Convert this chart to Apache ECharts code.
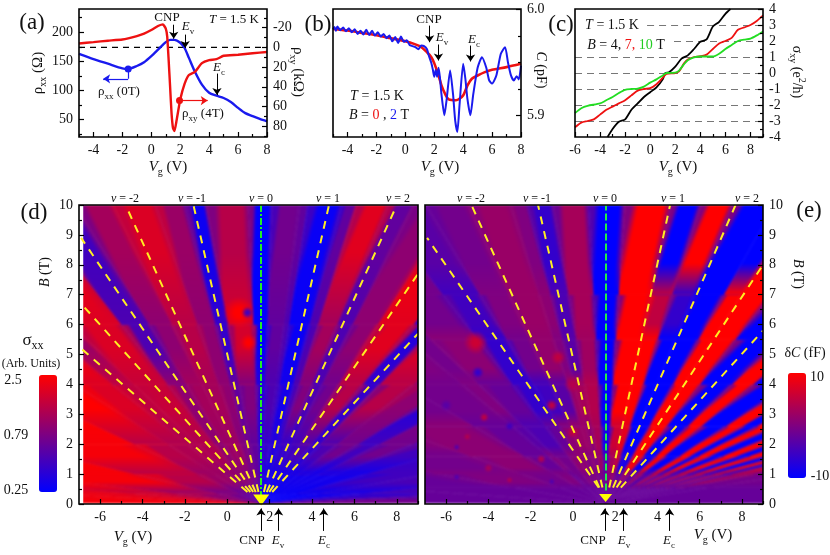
<!DOCTYPE html>
<html>
<head>
<meta charset="utf-8">
<style>html,body{margin:0;background:#fff}#main{width:830px;height:555px}</style>
<script src="https://cdn.jsdelivr.net/npm/echarts@6/dist/echarts.min.js"></script>
</head>
<body>
<div id="main"></div>
<script>
// panel (a): [Vg, value]
var aRhoXx = [[-5,163],[-4,154],[-3,146],[-2,138],[-1.6,137],[-1,142],[-0.5,148.5],[0,159],[0.5,171],[1,183],[1.3,187],[1.6,187],[2,182],[2.3,173],[2.6,156],[3,133],[3.5,110],[4,96],[4.5,91],[5,87],[5.5,80],[6,70],[6.5,61],[7,56],[7.5,51],[8,47]];
var aRhoXy = [[-5,-4],[-4,-5.4],[-3,-6.8],[-2,-8],[-1,-11.5],[-0.5,-14],[0,-17.6],[0.5,-22],[0.8,-23.4],[1,-19],[1.1,-11],[1.2,13],[1.3,40],[1.4,67],[1.5,82],[1.6,85],[1.75,74],[2,53],[2.3,37],[2.6,28],[3,25],[3.5,16],[4,13],[4.5,12],[5,8.5],[6,7.5],[7,6],[8,4.7]];
var aZero = [[-5,0],[8,0]];
// panel (b)
var bC0 = [[-5,5.9818],[-4,5.9802],[-3,5.978],[-2,5.9758],[-1,5.9729],[0,5.9701],[1,5.9654],[1.5,5.9597],[1.8,5.955],[2,5.9494],[2.3,5.9377],[2.5,5.9283],[2.8,5.9189],[3,5.9151],[3.5,5.9142],[4,5.9189],[4.3,5.9283],[4.6,5.9346],[5,5.9377],[5.5,5.9409],[6,5.9431],[7,5.9456],[8,5.9487]];
var bC2 = [[-5,5.9815],[-4.9,5.9835],[-4.8,5.98],[-4.7,5.984],[-4.5,5.9805],[-4.3,5.983],[-4.1,5.9795],[-3.9,5.9825],[-3.7,5.9785],[-3.5,5.9815],[-3.3,5.977],[-3.1,5.98],[-2.9,5.9765],[-2.7,5.981],[-2.5,5.976],[-2.3,5.98],[-2.1,5.9755],[-1.9,5.9785],[-1.7,5.9745],[-1.5,5.977],[-1.3,5.973],[-1.1,5.9755],[-0.9,5.97],[-0.7,5.974],[-0.5,5.9685],[-0.3,5.9745],[-0.1,5.9695],[0.1,5.971],[0.3,5.9665],[0.5,5.9655],[0.7,5.9645],[0.9,5.9625],[1.1,5.966],[1.3,5.9655],[1.5,5.9625],[1.6,5.9575],[1.8,5.9495],[1.9,5.9435],[2,5.9365],[2.1,5.943],[2.2,5.9365],[2.3,5.945],[2.4,5.935],[2.5,5.92],[2.7,5.9],[2.85,5.914],[3.1,5.9425],[3.3,5.92],[3.45,5.895],[3.6,5.8843],[3.75,5.91],[4,5.9487],[4.15,5.935],[4.3,5.915],[4.5,5.9],[4.7,5.92],[5,5.945],[5.3,5.955],[5.6,5.945],[5.8,5.933],[6,5.93],[6.3,5.938],[6.6,5.958],[6.9,5.9645],[7.1,5.95],[7.3,5.938],[7.5,5.933],[7.7,5.937],[7.85,5.934],[8,5.947]];
// panel (c)
var cSigma4 = [[-3.4,-4],[-3,-3.5],[-2.5,-3.05],[-2,-2.9],[-1.5,-2.3],[-1,-1.9],[-0.5,-1.5],[0,-1.2],[0.5,-0.9],[1,-0.4],[1.2,0],[1.5,0.05],[2,0.4],[2.5,0.9],[3,1.1],[3.5,1.5],[4,1.95],[4.5,2.1],[5,2.9],[5.5,3.2],[6,3.7],[6.4,4]];
var cSigma7 = [[-6,-3.4],[-5.5,-3.1],[-5,-3],[-4.5,-2.9],[-4,-2.6],[-3.5,-2.3],[-3,-2.1],[-2.5,-1.9],[-2,-1.7],[-1.5,-1.4],[-1,-1.1],[-0.5,-1],[0,-0.95],[0.5,-0.7],[1,-0.3],[1.3,-0.05],[2,0],[2.3,0.1],[2.7,0.6],[3,0.85],[3.5,1],[4,1.05],[4.5,1.15],[5,1.5],[5.5,1.85],[6,2],[6.5,2.2],[7,2.7],[7.5,2.85],[8,3],[8.5,3.25],[9,3.6]];
var cSigma10 = [[-6,-2.5],[-5.5,-2.2],[-5,-2.05],[-4,-1.9],[-3.5,-1.7],[-3,-1.5],[-2.5,-1.25],[-2,-1.05],[-1.5,-1],[-1,-0.97],[-0.5,-0.85],[0,-0.6],[0.5,-0.4],[1,-0.15],[1.3,0],[2,0.02],[2.3,0.15],[2.7,0.55],[3,0.8],[3.5,0.98],[4,1.03],[5,1.03],[5.5,1.2],[6,1.5],[6.5,1.75],[7,2],[7.5,2.08],[8,2.15],[8.5,2.35],[9,2.6]];
var cLevels = [-3,-2,-1,0,1,2,3];
var cLevelFrom = [-6,-6,-6,-6,-6,1.9,-0.25];
// panel (d): sigma_xx, one row per B band, one value per wedge fanning out of the CNP
var cnpD = 1.6, cnpE = 1.55;
var dSlopes = [-300,-30,-18,-12,-6,-3,-2.2,-1.75,-1.5,-1.1,-0.88,-0.7,-0.5,-0.36,-0.26,-0.06,0.05,0.18,0.22,0.38,0.45,0.6,0.72,0.92,1.2,1.4,1.8,2.3,2.8,3.6,5,8,14,30,300];
var dBands = [0,0.35,1,2,4,6,10];
var dSigma = [
  [2.4,1.9,1.4,.9,.7,.6,.6,.6,.55,.55,.5,.5,.5,.45,.4,.3,.27,.27,.27,.27,.27,.27,.27,.27,.27,.27,.27,.27,.27,.27,.27,.3,.45,.7],
  [2.5,2.5,2.5,2.3,1.3,1,1,.9,.9,.9,.85,.8,.7,.7,.6,.4,.3,.3,.3,.3,.3,.3,.3,.3,.3,.3,.3,.3,.3,.3,.45,.5,.5,.5],
  [2.5,2.5,2.5,2.5,2.3,1.3,1.2,1.2,1.2,.9,1,1,.8,.7,.6,.35,.4,.4,.35,.35,.4,.4,.45,.5,.4,.5,.7,.45,.7,.45,.4,.4,.4,.4],
  [2.5,2.5,2.5,2.5,2.5,2.5,1.8,1.4,1.5,.9,1.1,1.1,.9,.6,.8,.35,.5,.45,.3,.5,.8,.5,.7,1.3,.4,1.3,.9,.35,.8,.5,.5,.5,.5,.5],
  [2.5,2.5,2.5,2.5,2.5,2.5,2.5,1,1.8,.5,.9,1.3,.9,.4,1.7,.25,.6,.5,.27,.5,1.1,.5,.9,1.9,.35,1.9,1,.8,.8,.8,.8,.8,.8,.8],
  [2.5,2.5,2.5,2.5,2.5,2.5,2.5,2.5,2.2,.45,1.1,1.8,1,.28,1.3,.25,.7,.6,.27,.6,1.9,.6,.9,2.3,.9,.8,.8,.8,.8,.8,.8,.8,.8,.8]
];
var dSpots = [[0.55,6.4,0.75,0.7,2.5],[1,5.4,0.4,1.2,2.5],[0.95,6.4,0.3,0.2,0.45]];
var dBlank = [[-7,-6.8]];
var dNuLines = [[[0.95,0.4],[-6.9,5.2]],[[1.09,0.4],[-6.9,6.7]],[[1.22,0.4],[-6.9,8.9]],[[1.34,0.4],[-4.8,10]],[[1.47,0.4],[-1.6,10]],[[1.73,0.4],[4.8,10]],[[1.86,0.4],[8,10]],[[1.98,0.4],[9,7.7]],[[2.12,0.4],[9,5.7]]];
var dNuZero = [[1.6,0.2],[1.6,10]];
var dApex = [[1.6,0.13]];
var dArrows = [[[1.59,-0.9],[1.59,-0.15]],[[2.42,-0.9],[2.42,-0.15]],[[4.55,-0.9],[4.55,-0.15]]];
// panel (e): delta C in fF
var eSlopes = [-300,-20,-8,-4,-2.4,-1.7,-1.5,-1.1,-0.85,-0.65,-0.45,-0.37,-0.25,-0.08,0.09,0.31,0.45,0.6,0.8,0.92,1.12,1.5,1.75,2.2,2.5,2.76,3.08,3.48,3.88,4.26,4.66,5.14,5.56,6,7,9,300];
var eBands = [0,0.55,1,1.6,2.6,4,5.5,7,10];
var eDeltaC = [
  [-2,-2,-2,-2,-2,-2,-2,-2,-2,-2,-2,-2,-2,-2,-2,-2,-2,-2,-2,-2,-2,-2,-2,-2,-2,-2,-2,-2,-2,-2,-2,-2,-2,-2,-2,-2],
  [-1,-2,0,-1,0,-2,-1,0,-1,0,-1,-1,-1,-2,1,1,-2,-2,1,1,-2,2,-3,3,-3,3,-3,3,-3,3,-3,3,-3,2,-1,-1],
  [0,1,-1,1,-2,0,-1,1,1,0,1,0,2,-5,3,5,-8,-8,9,9,-10,10,-10,10,-10,10,-10,10,-10,10,-10,9,-8,6,-3,0],
  [0,0,0,1,-2,-3,-4,-2,1,2,2,1,3,-9,6,8,-10,-10,10,10,-10,10,-10,10,-10,10,-10,10,-10,10,-10,0,0,0,0,0],
  [0,0,0,-1,-1,0,-2,-6,-5,-3,2,3,4,-10,10,10,-10,-10,10,10,-10,10,-10,10,-10,10,0,0,0,0,0,0,0,0,0,0],
  [0,0,0,0,0,-1,1,-6,-1,1.5,0,-3,2.5,-10,10,10,-10,-10,10,10,-10,10,-10,10,0,0,0,0,0,0,0,0,0,0,0,0],
  [0,0,0,0,0,0,-1,-5,0,2,1,-4,3,-10,10,5,-6,-10,10,10,-10,10,0,0,0,0,0,0,0,0,0,0,0,0,0,0],
  [0,0,0,0,0,0,0,-3,-1,2,0,-6,3,-10,10,-10,10,-10,-10,10,10,0,0,0,0,0,0,0,0,0,0,0,0,0,0,0]
];
var eSpots = [[-4.6,5.4,0.6,0.4,6],[-0.7,4.9,1,0.25,5],[-4.5,4.4,1,0.2,-6],[0,4,1.2,0.3,4],[-1,3.3,1.2,0.2,5],[-4.2,2.9,0.8,0.15,5],[-5,2.25,0.7,0.12,4],[-3,2.6,0.9,0.15,-5],[-1.5,1.5,1.4,0.15,4],[-4,1.2,1.6,0.15,3],[-5.5,0.9,1,0.1,-4],[0,2.4,0.8,0.2,5],[-3,0.8,0.8,0.1,4],[-1,0.75,0.8,0.1,-4],[-5.5,1.9,0.7,0.1,-4],[-6,3.3,0.8,0.2,-3]];
var eNuLines = [[[1.22,0.55],[-6.9,8.9]],[[1.25,0.55],[-4.8,10]],[[1.4,0.55],[-1.65,10]],[[1.72,0.55],[4.6,10]],[[1.9,0.55],[7.7,10]],[[2.07,0.55],[9,8]],[[2.27,0.55],[9,5.8]]];
var eNuZero = [[1.55,0.45],[1.55,10]];
var eApex = [[1.55,0.2]];
var eArrows = [[[1.51,-0.9],[1.51,-0.15]],[[2.4,-0.9],[2.4,-0.15]],[[4.58,-0.9],[4.58,-0.15]]];
// tick labels
var evenTicks14 = [-6,-4,-2,0,2,4,6,8];
var oddTicks14 = [-5,-3,-1,1,3,5,7,9];

var SERIF = '"Liberation Serif","Times New Roman",serif';
var tickLine = {color:'#000', width:1.2};
var grids = [
  {left:79, top:9, width:188, height:128},
  {left:333, top:9, width:188, height:128},
  {left:575, top:9, width:188, height:128},
  {left:79, top:205, width:339, height:299},
  {left:425, top:205, width:338, height:299}
].map(function (g) {
  return Object.assign(g, {show:true, z:10, backgroundColor:'transparent', borderColor:'#000', borderWidth:1.6});
});
var xAxes = [], yAxes = [];

function baseAxis(grid, min, max, pos, labels, ticks, inverse) {
  return {
    gridIndex:grid, type:'value', min:min, max:max, position:pos, inverse:!!inverse, z:5,
    splitLine:{show:false}, axisLine:{show:false, onZero:false},
    axisTick:{show:ticks.length>0, inside:true, length:5, customValues:ticks, lineStyle:tickLine},
    axisLabel:{show:labels.length>0, customValues:labels, color:'#111', fontFamily:SERIF, fontSize:14, margin:6, hideOverlap:false}
  };
}
function addX(grid, min, max, labels, minor) {
  xAxes.push(baseAxis(grid, min, max, 'bottom', labels, labels));
  var idx = xAxes.length - 1;
  if (minor) {
    var m = baseAxis(grid, min, max, 'bottom', [], minor);
    m.axisTick.length = 3;
    xAxes.push(m);
  }
  return idx;
}
function addY(grid, min, max, pos, labels, minor, inverse) {
  yAxes.push(baseAxis(grid, min, max, pos, labels, labels, inverse));
  var idx = yAxes.length - 1;
  if (minor) {
    var m = baseAxis(grid, min, max, pos, [], minor, inverse);
    m.axisTick.length = 3;
    yAxes.push(m);
  }
  return idx;
}

var ax = addX(0, -5, 8, [-4,-2,0,2,4,6,8], [-5,-3,-1,1,3,5,7]);
var ayL = addY(0, 20, 240, 'left', [50,100,150,200], [25,75,125,175,225]);
var ayR = addY(0, -39, 91, 'right', [-20,0,20,40,60,80], [-30,-10,10,30,50,70,90], true);
var bx = addX(1, -5, 8, [-4,-2,0,2,4,6,8], [-5,-3,-1,1,3,5,7]);
var by = addY(1, 5.8795, 6.0006, 'right', [5.9,6.0], [5.925,5.95,5.975]);
yAxes[by].axisLabel.formatter = function (v) { return (+v).toFixed(1); };
var cx = addX(2, -6, 9, evenTicks14, oddTicks14);
var cy = addY(2, -4, 4, 'right', [-4,-3,-2,-1,0,1,2,3,4], [-3.5,-2.5,-1.5,-0.5,0.5,1.5,2.5,3.5]);
var halfT = [0.5,1.5,2.5,3.5,4.5,5.5,6.5,7.5,8.5,9.5];
var fullT = [0,1,2,3,4,5,6,7,8,9,10];
var dx = addX(3, -7, 9, evenTicks14, oddTicks14);
var dy = addY(3, 0, 10, 'left', fullT, halfT);
var ex = addX(4, -7, 9, evenTicks14, oddTicks14);
var ey = addY(4, 0, 10, 'right', fullT, halfT);

function sigmaColor(v) { return ramp(Math.log(v / 0.25) / Math.LN10); }
function deltaColor(v) { return ramp((v + 10) / 20); }
function ramp(t) {
  t = Math.max(0, Math.min(1, t));
  return 'rgb(' + Math.round(255 * t) + ',0,' + Math.round(255 * (1 - t)) + ')';
}
function clear(col) { return col.replace('rgb', 'rgba').replace(')', ',0)'); }

// wedge cells: [slope0, slope1, b0, b1, value, left neighbour, right neighbour, fade height]
function fanCells(slopes, bands, table, fadeShare) {
  var cells = [];
  table.forEach(function (row, j) {
    var fade = j < table.length - 1 ? (bands[j+2] - bands[j+1]) * fadeShare : 0;
    row.forEach(function (v, i) {
      cells.push([slopes[i], slopes[i+1], bands[j], bands[j+1], v, row[Math.max(i-1,0)], row[Math.min(i+1,row.length-1)], fade]);
    });
  });
  return cells;
}
function fanRender(cnp, colorOf) {
  var mid = function (a, b) { return (a + b) / 2; };
  return function (params, api) {
    var s0 = api.value(0), s1 = api.value(1), b0 = api.value(2), b1 = api.value(3);
    var v = api.value(4), left = api.value(5), right = api.value(6);
    var p = function (s, b) { return api.coord([cnp + s * b, b]); };
    var bm = mid(b0, b1), A = p(s0, bm), C = p(s1, bm), O = api.coord([cnp, 0]);
    var ux = C[0] - O[0], uy = C[1] - O[1], n = Math.sqrt(ux*ux + uy*uy) || 1;
    ux /= n; uy /= n;
    var t = (A[0]-O[0])*ux + (A[1]-O[1])*uy;
    // cross-fade the wedge borders so the stripes have soft edges
    var grad = new echarts.graphic.LinearGradient(A[0], A[1], O[0]+ux*t, O[1]+uy*t, [
      {offset:0, color:colorOf(mid(left, v))},
      {offset:0.18, color:colorOf(v)},
      {offset:0.82, color:colorOf(v)},
      {offset:1, color:colorOf(mid(v, right))}
    ], true);
    return {
      type:'polygon',
      shape:{points:[p(s0,b0), p(s1,b0), p(s1,b1), p(s0,b1)]},
      style:{fill:grad, stroke:grad, lineWidth:0.5}
    };
  };
}
// lets each band's colour run on into the band above it
function fadeRender(cnp, colorOf) {
  return function (params, api) {
    var s0 = api.value(0), s1 = api.value(1), b1 = api.value(3), v = api.value(4), fade = api.value(7);
    if (!(fade > 0)) { return; }
    var p = function (s, b) { return api.coord([cnp + s * b, b]); };
    var y0 = api.coord([cnp, b1])[1], y1 = api.coord([cnp, b1 + fade])[1];
    var col = colorOf(v);
    return {
      type:'polygon',
      shape:{points:[p(s0,b1), p(s1,b1), p(s1,b1+fade), p(s0,b1+fade)]},
      style:{fill:new echarts.graphic.LinearGradient(0, y0, 0, y1, [
        {offset:0, color:col}, {offset:1, color:clear(col)}
      ], true)}
    };
  };
}
function spotRender(colorOf) {
  return function (params, api) {
    var c = api.coord([api.value(0), api.value(1)]);
    var size = api.size([api.value(2), api.value(3)]);
    var col = colorOf(api.value(4));
    return {
      type:'ellipse',
      shape:{cx:c[0], cy:c[1], rx:size[0], ry:size[1]},
      style:{fill:new echarts.graphic.RadialGradient(0.5, 0.5, 0.5, [
        {offset:0, color:col}, {offset:0.3, color:col}, {offset:1, color:clear(col)}
      ])}
    };
  };
}
function curve(x, y, data, color, width, extra) {
  return Object.assign({type:'line', xAxisIndex:x, yAxisIndex:y, data:data, showSymbol:false, symbol:'none',
    smooth:0.25, lineStyle:{color:color, width:width}}, extra || {});
}
function arrows(x, y, list, color, width) {
  return {type:'lines', coordinateSystem:'cartesian2d', xAxisIndex:x, yAxisIndex:y, clip:false,
    symbol:['none','arrow'], symbolSize:[1,7], lineStyle:{color:color, width:width||1, opacity:1, curveness:0},
    data:list.map(function (c) { return {coords:c}; }), z:6};
}
function dashes(x, y, list, color, type, width) {
  return {type:'lines', coordinateSystem:'cartesian2d', xAxisIndex:x, yAxisIndex:y,
    symbol:'none', lineStyle:{color:color, width:width, type:type, opacity:1, curveness:0},
    data:list.map(function (c) { return {coords:c}; })};
}
function marker(x, y, data, color, extra) {
  return Object.assign({type:'scatter', xAxisIndex:x, yAxisIndex:y, data:data, symbolSize:7, clip:false,
    itemStyle:{color:color, opacity:1}}, extra || {});
}
function mapLayer(x, y, level, z, render, cells) {
  return {type:'custom', xAxisIndex:x, yAxisIndex:y, zlevel:level, z:z, clip:false, renderItem:render, data:cells};
}

var dCells = fanCells(dSlopes, dBands, dSigma, 0.6), eCells = fanCells(eSlopes, eBands, eDeltaC, 0.35);
var series = [
  // (a)
  curve(ax, ayR, aZero, '#000', 1.2, {smooth:false, lineStyle:{color:'#000', width:1.2, type:[6,5]}}),
  curve(ax, ayL, aRhoXx, '#1a1aee', 2.4),
  curve(ax, ayR, aRhoXy, '#ee1111', 2.4, {smooth:0.15}),
  arrows(ax, ayL, [[[1.55,213],[1.55,189]],[[2.34,196],[2.34,173]],[[4.54,129],[4.54,92]]], '#000'),
  dashes(ax, ayL, [[[-1.6,137],[-1.6,120]]], '#1a1aee', 'solid', 1.2),
  arrows(ax, ayL, [[[-1.6,120],[-3.33,120]]], '#1a1aee', 1.2),
  arrows(ax, ayR, [[[1.95,54],[3.9,54]]], '#ee1111', 1.2),
  marker(ax, ayL, [[-1.6,137]], '#1a1aee'),
  marker(ax, ayR, [[1.95,54]], '#ee1111'),
  // (b)
  curve(bx, by, bC0, '#ee1111', 2.6),
  curve(bx, by, bC2, '#1a1aee', 2, {smooth:0.2}),
  arrows(bx, by, [[[1.68,5.9849],[1.68,5.9692]],[[2.29,5.967],[2.29,5.9519]],[[4.51,5.966],[4.51,5.951]]], '#000'),
  // (c)
  dashes(cx, cy, cLevels.map(function (k, i) { return [[cLevelFrom[i],k],[9,k]]; }), '#777', [7,5], 1),
  curve(cx, cy, cSigma4, '#000', 1.8),
  curve(cx, cy, cSigma7, '#ee1111', 1.8),
  curve(cx, cy, cSigma10, '#22dd22', 1.8),
  // (d)
  mapLayer(dx, dy, -1, 1, fanRender(cnpD, sigmaColor), dCells),
  mapLayer(dx, dy, -1, 2, fadeRender(cnpD, sigmaColor), dCells),
  mapLayer(dx, dy, -1, 3, spotRender(sigmaColor), dSpots),
  {type:'custom', xAxisIndex:dx, yAxisIndex:dy, clip:true, data:dBlank, renderItem:function (params, api) {
    var a = api.coord([api.value(0), 10]), b = api.coord([api.value(1), 0]);
    return {type:'rect', shape:{x:a[0], y:a[1], width:b[0]-a[0], height:b[1]-a[1]}, style:{fill:'#fff'}};
  }},
  dashes(dx, dy, dNuLines, '#ffee22', [8,7], 2),
  dashes(dx, dy, [dNuZero], '#22ee22', [7,2,2,2], 2),
  marker(dx, dy, dApex, '#ffff00', {symbol:'triangle', symbolRotate:180, symbolSize:[16,11]}),
  arrows(dx, dy, dArrows, '#000'),
  // (e)
  mapLayer(ex, ey, -2, 1, fanRender(cnpE, deltaColor), eCells),
  mapLayer(ex, ey, -2, 2, fadeRender(cnpE, deltaColor), eCells),
  mapLayer(ex, ey, -2, 3, spotRender(deltaColor), eSpots),
  dashes(ex, ey, eNuLines, '#ffee22', [8,7], 2),
  dashes(ex, ey, [eNuZero], '#22ee44', [7,3], 2),
  marker(ex, ey, eApex, '#ffff00', {symbol:'triangle', symbolRotate:180, symbolSize:[13,8]}),
  arrows(ex, ey, eArrows, '#000')
];

// text labels; {i|x} italic, {s|x} subscript, {u|x} superscript, {r|x} {b|x} {g|x} coloured
function richFor(size) {
  var sub = Math.round(size * 0.68);
  function st(o) { return Object.assign({fontFamily:SERIF, fontSize:size, fill:'#111'}, o); }
  return {
    i:st({fontStyle:'italic'}),
    s:st({fontSize:sub, verticalAlign:'bottom', lineHeight:size + 5}),
    u:st({fontSize:sub, verticalAlign:'top', lineHeight:size + 5}),
    r:st({fill:'#ee1111'}), b:st({fill:'#1a1aee'}), g:st({fill:'#22cc22'})
  };
}
function T(x, y, text, size, rot) {
  size = size || 14;
  return {
    type:'text', x:x, y:y, rotation:(rot || 0) * Math.PI / 180, z:20, silent:true,
    style:{text:text, fontFamily:SERIF, fontSize:size, fill:'#111', align:'center', verticalAlign:'middle', rich:richFor(size)}
  };
}
var VG = '{i|V}{s|g} (V)';
var labels = [
  T(32,23,'(a)',23), T(318,25,'(b)',23), T(561,25,'(c)',23), T(34,213,'(d)',23), T(809,211,'(e)',23),
  T(38,73,'ρ{s|xx} (Ω)',15,90), T(298,72,'ρ{s|xy} (kΩ)',15,-90),
  T(168,167,VG,15), T(440,167,VG,15), T(678,167,VG,15),
  T(167,18,'CNP',13), T(188,27,'{i|E}{s|v}',13), T(234,20,'{i|T} = 1.5 K',13), T(219,68,'{i|E}{s|c}',13),
  T(119,92,'ρ{s|xx} (0T)',13), T(203,114,'ρ{s|xy} (4T)',13),
  T(429,20,'CNP',13), T(442,38,'{i|E}{s|v}',13), T(474,40,'{i|E}{s|c}',13),
  T(377,96,'{i|T} = 1.5 K',14), T(379,115,'{i|B} = {r|0} , {b|2} T',14),
  T(541,70,'{i|C} (pF)',14,-90),
  T(612,25,'{i|T} = 1.5 K',14), T(626,45,'{i|B} = 4, {r|7,} {g|10} T',14),
  T(797,72,'σ{s|xy} (e{u|2}/h)',14,-90),
  T(45,272,'{i|B} (T)',14,90), T(798,274,'{i|B} (T)',14,-90),
  T(33,341,'σ{s|xx}',17), T(31,364,'(Arb. Units)',12),
  T(13,380,'2.5',14), T(16,435,'0.79',14), T(16,490,'0.25',14),
  T(133,537,VG,15), T(252,541,'CNP',13), T(278,541,'{i|E}{s|v}',13), T(324,541,'{i|E}{s|c}',13),
  T(805,353,'δ{i|C} (fF)',14), T(817,377,'10',14), T(820,476,'-10',14),
  T(713,535,VG,15), T(593,541,'CNP',13), T(624,541,'{i|E}{s|v}',13), T(669,541,'{i|E}{s|c}',13)
];
[125,192,261,328,398,471,537,605,673,747].forEach(function (x, i) {
  var nu = [-2,-1,0,1,2][i % 5];
  labels.push(T(x, 199, '{i|ν} = ' + nu, 12));
});

function colorBar(left, top, h, min, max) {
  return {type:'continuous', seriesIndex:[], min:min, max:max, left:left, top:top, itemWidth:18, itemHeight:h,
    calculable:false, showLabel:false, text:null, padding:0, inRange:{color:['#0000ff','#ff0000']}, hoverLink:false};
}

var chart = echarts.init(document.getElementById('main'), null, {renderer:'canvas'});
chart.setOption({
  animation:false,
  grid:grids,
  xAxis:xAxes,
  yAxis:yAxes,
  visualMap:[colorBar(39,375,117,0.25,2.5), colorBar(788,373,105,-10,10)],
  graphic:{elements:labels},
  series:series
});
// each map sits on its own canvas layer: soften it and cut it to its plot frame
var painter = chart.getZr().painter;
[[-1,'inset(205px 412px 51px 79px)'],[-2,'inset(205px 67px 51px 425px)']].forEach(function (m) {
  var dom = painter.getLayer(m[0]).dom;
  dom.style.filter = 'blur(1.2px)';
  dom.style.clipPath = m[1];
});
</script>
</body>
</html>
